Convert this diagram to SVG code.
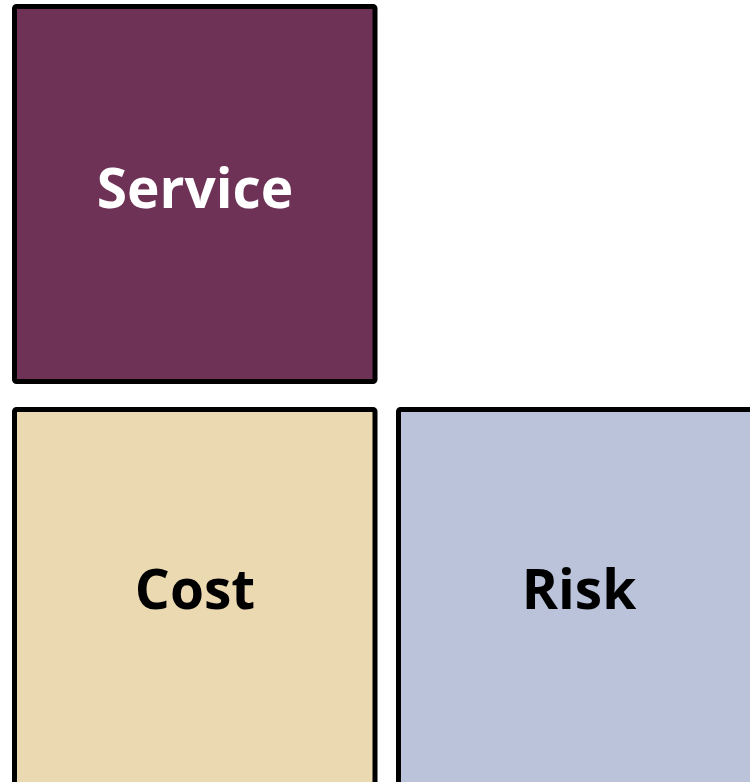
<svg xmlns="http://www.w3.org/2000/svg" width="750" height="782" viewBox="0 0 750 782">
  <style>
    .box { stroke: #000000; stroke-width: 5; }
    .label { font-family: "Open Sans", "Liberation Sans", sans-serif; font-weight: bold; font-size: 55px; text-anchor: middle; }
  </style>
  <rect x="0" y="0" width="750" height="782" fill="#ffffff"/>
  <g id="service">
    <rect class="box" x="14.5" y="6.5" width="360.5" height="375" rx="2" fill="#6E3256"/>
    <text class="label" x="195" y="208" fill="#ffffff">Service</text>
  </g>
  <g id="cost">
    <rect class="box" x="14.5" y="409.5" width="360.5" height="375" rx="2" fill="#EBD9B1"/>
    <text class="label" x="195" y="609" fill="#000000">Cost</text>
  </g>
  <g id="risk">
    <rect class="box" x="398.5" y="409.5" width="360.5" height="375" rx="2" fill="#BAC3DA"/>
    <text class="label" x="579" y="609" fill="#000000">Risk</text>
  </g>
  <g id="connectors"></g>
</svg>
